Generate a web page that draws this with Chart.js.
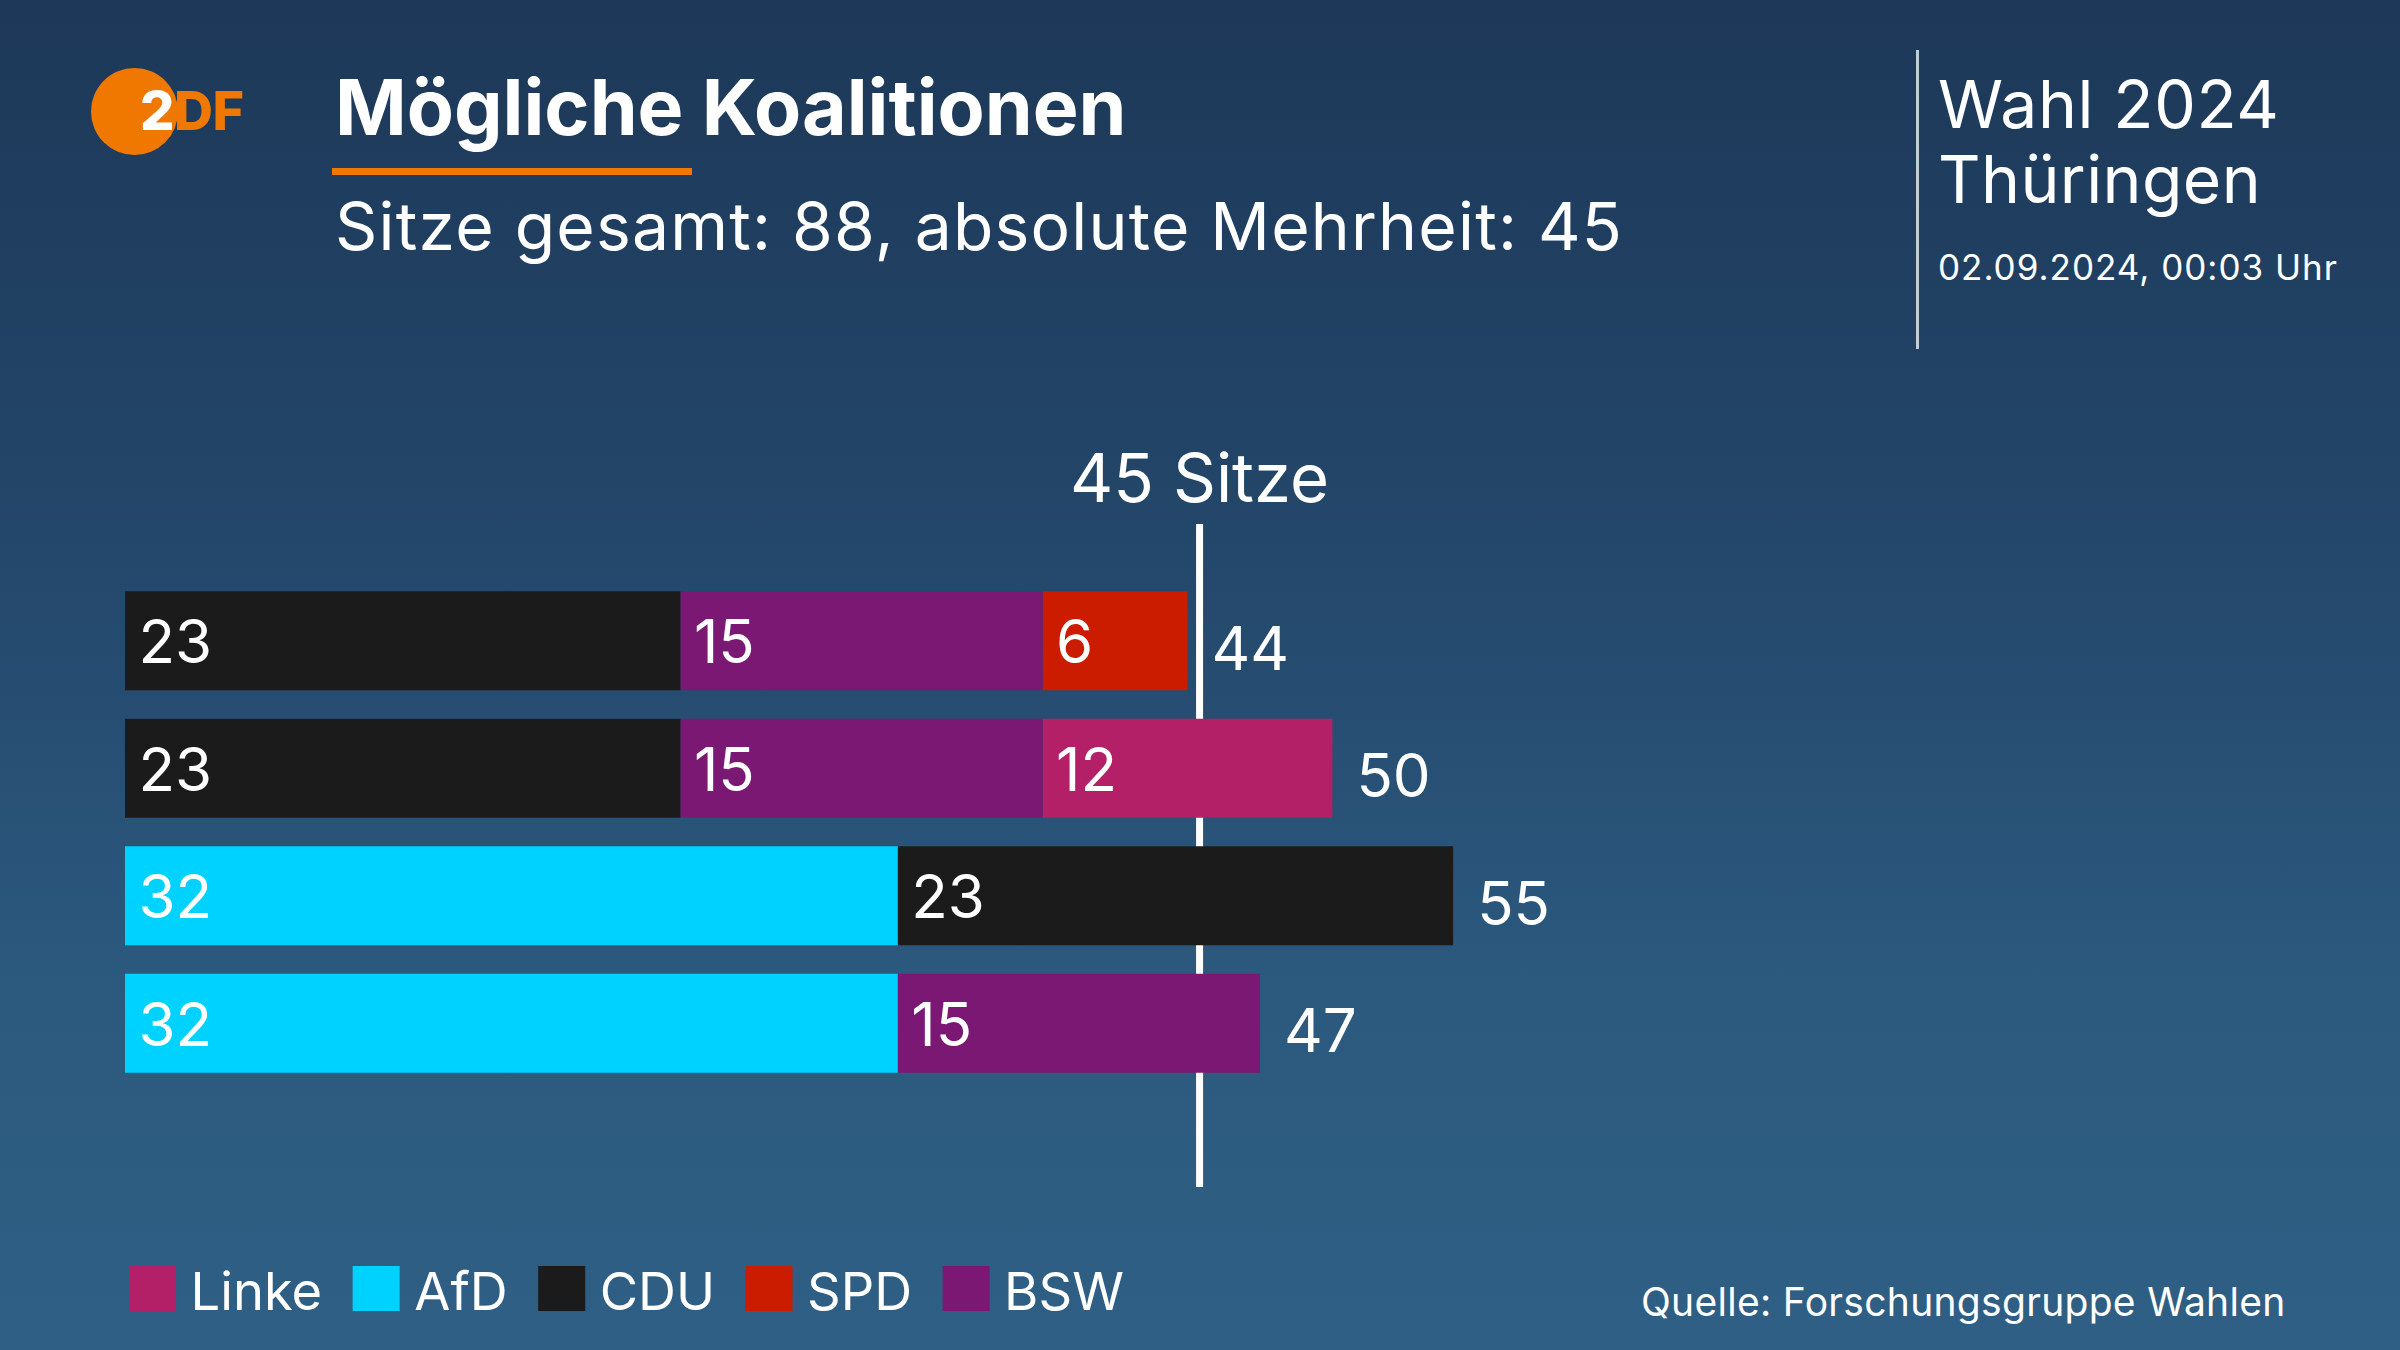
<!DOCTYPE html>
<html lang="de">
<head>
<meta charset="utf-8">
<title>Mögliche Koalitionen – Wahl 2024 Thüringen</title>
<script src="https://cdn.jsdelivr.net/npm/chart.js@4.4.1/dist/chart.umd.min.js"></script>
<style>
  html, body { margin: 0; padding: 0; }
  body {
    width: 2400px; height: 1350px; overflow: hidden; position: relative;
    background: linear-gradient(180deg, #1d3858 0%, #23476a 40%, #2c5a7f 75%, #2f5f84 100%);
    font-family: Inter, "Noto Sans", sans-serif; color: #fff;
  }
  .t { position: absolute; white-space: nowrap; line-height: 1; }
  #chart { position: absolute; left: 0; top: 0; }
  #logo-circle { position: absolute; left: 91px; top: 68px; width: 87px; height: 87px; border-radius: 50%; background: #f07800; }
  #logo { position: absolute; left: 140px; top: 84px; font-weight: 800; font-size: 54px; line-height: 1; letter-spacing: -0.5px; }
  #logo .w { color: #fff; } #logo .o { color: #f07800; }
  #uline { position: absolute; left: 332px; top: 168px; width: 360px; height: 7px; background: #f07800; }
  #vline { position: absolute; left: 1916px; top: 50px; width: 3px; height: 299px; background: #c3cdd8; }
</style>
</head>
<body>
<div id="logo-circle"></div>
<div id="logo"><span class="w">2</span><span class="o">DF</span></div>
<div class="t" id="title" style="left:335px; top:69px; font-size:77px; font-weight:700;">Mögliche Koalitionen</div>
<div id="uline"></div>
<div class="t" id="sub" style="left:335px; top:193px; font-size:66px; letter-spacing:1.2px;">Sitze gesamt: 88, absolute Mehrheit: 45</div>
<div id="vline"></div>
<div class="t" style="left:1938px; top:71px; font-size:66px; letter-spacing:0.6px;">Wahl 2024</div>
<div class="t" style="left:1938px; top:146px; font-size:66px; letter-spacing:0.4px;">Thüringen</div>
<div class="t" style="left:1938px; top:250px; font-size:35px; letter-spacing:1px;">02.09.2024, 00:03 Uhr</div>
<div class="t" style="left:1641px; top:1282px; font-size:39px; letter-spacing:0.3px;">Quelle: Forschungsgruppe Wahlen</div>
<canvas id="chart" width="2400" height="1350"></canvas>
<script>
// ---- data ----
const coalitions = ['CDU + BSW + SPD', 'CDU + BSW + Linke', 'AfD + CDU', 'AfD + BSW'];
const afdSeats   = [null, null, 32, 32];
const cduSeats   = [23, 23, 23, null];
const bswSeats   = [15, 15, null, 15];
const spdSeats   = [6, null, null, null];
const linkeSeats = [null, 12, null, null];
const totalSeats = 88;
const majoritySeats = 45;
const majorityLabel = '45 Sitze';
const legendOrder = ['Linke', 'AfD', 'CDU', 'SPD', 'BSW'];

const FONT = 'Inter, "Noto Sans", sans-serif';

const datasets = [
  { label: 'AfD',   data: afdSeats,   backgroundColor: '#00d2ff' },
  { label: 'CDU',   data: cduSeats,   backgroundColor: '#1b1b1b' },
  { label: 'BSW',   data: bswSeats,   backgroundColor: '#7a1874' },
  { label: 'SPD',   data: spdSeats,   backgroundColor: '#cc1c00' },
  { label: 'Linke', data: linkeSeats, backgroundColor: '#b32068' }
];

const majorityLine = {
  id: 'majorityLine',
  beforeDatasetsDraw(chart) {
    const { ctx, chartArea, scales } = chart;
    const x = scales.x.getPixelForValue(majoritySeats - 0.5);
    ctx.save();
    ctx.fillStyle = '#ffffff';
    ctx.fillRect(x - 3.5, chartArea.top - 53, 7, chartArea.bottom - chartArea.top + 153);
    ctx.font = '67px ' + FONT;
    ctx.textAlign = 'center';
    ctx.textBaseline = 'alphabetic';
    ctx.fillText(majorityLabel, x, chartArea.top - 75);
    ctx.restore();
  }
};

const barLabels = {
  id: 'barLabels',
  afterDatasetsDraw(chart) {
    const { ctx } = chart;
    ctx.save();
    ctx.fillStyle = '#ffffff';
    ctx.textAlign = 'left';
    ctx.textBaseline = 'alphabetic';
    ctx.font = '60px ' + FONT;
    const ends = [];
    chart.data.datasets.forEach((ds, di) => {
      const meta = chart.getDatasetMeta(di);
      meta.data.forEach((el, i) => {
        const v = ds.data[i];
        if (v == null) return;
        const left = Math.min(el.x, el.base);
        const right = Math.max(el.x, el.base);
        ctx.fillText(String(v), left + 13.5, el.y + 22.5);
        if (!ends[i] || right > ends[i].x) ends[i] = { x: right, y: el.y };
      });
    });
    coalitions.forEach((c, i) => {
      const total = datasets.reduce((s, ds) => s + (ds.data[i] || 0), 0);
      if (ends[i]) ctx.fillText(String(total), ends[i].x + 24, ends[i].y + 29);
    });
    ctx.restore();
  }
};

const customLegend = {
  id: 'customLegend',
  afterDraw(chart) {
    const { ctx } = chart;
    ctx.save();
    ctx.font = '52.5px ' + FONT;
    ctx.textBaseline = 'alphabetic';
    ctx.textAlign = 'left';
    let x = 129;
    legendOrder.forEach(name => {
      const ds = chart.data.datasets.find(d => d.label === name);
      ctx.fillStyle = ds.backgroundColor;
      ctx.fillRect(x, 1266, 47, 45);
      x += 47 + 14.5;
      ctx.fillStyle = '#ffffff';
      ctx.fillText(name, x, 1310);
      x += ctx.measureText(name).width + 30.5;
    });
    ctx.restore();
  }
};

function draw() {
  new Chart(document.getElementById('chart'), {
    type: 'bar',
    data: { labels: coalitions, datasets },
    options: {
      indexAxis: 'y',
      responsive: false,
      animation: false,
      devicePixelRatio: 1,
      layout: { padding: { left: 125, right: 150, top: 577, bottom: 263 } },
      datasets: { bar: { categoryPercentage: 1, barPercentage: 0.7765, borderWidth: 0 } },
      scales: {
        x: { stacked: true, min: 0, max: totalSeats, display: false },
        y: { stacked: true, display: false }
      },
      plugins: { legend: { display: false }, tooltip: { enabled: false } }
    },
    plugins: [majorityLine, barLabels, customLegend]
  });
}

const fontReady = (document.fonts && document.fonts.load)
  ? Promise.all([document.fonts.load('60px Inter'), document.fonts.load('700 77px Inter')]).catch(() => {})
  : Promise.resolve();
fontReady.then(draw, draw);
</script>
</body>
</html>
